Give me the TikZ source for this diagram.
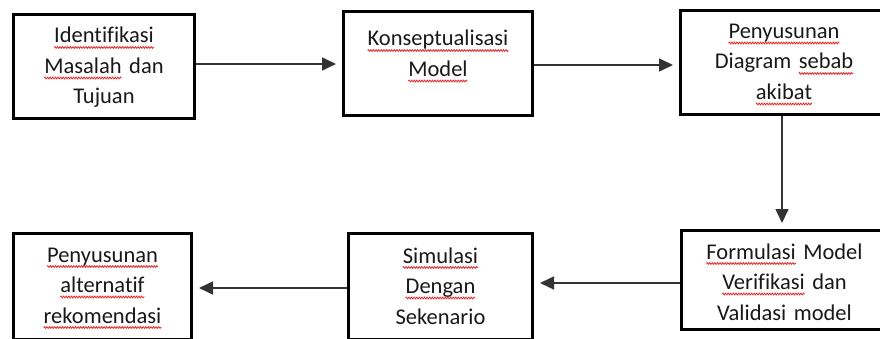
\documentclass[tikz,border=0pt]{standalone}
\usepackage{fontspec}
\setmainfont[Ligatures=NoCommon]{Carlito}
\usetikzlibrary{arrows.meta,decorations.pathmorphing}

\definecolor{typored}{RGB}{230,40,40}
\newdimen\typowd
\newcommand{\typo}[1]{\setbox0=\hbox{#1}\typowd=\wd0%
\tikz[overlay,baseline=0pt]\draw[typored,line width=0.8pt,decorate,decoration={zigzag,amplitude=0.9pt,segment length=2.6pt}] (0pt,-4.5pt) -- (\typowd,-4.5pt);#1}

\tikzset{
  stepbox/.style={draw=black, line width=3pt, inner sep=0pt, align=center,
    font=\fontsize{22.5}{30.5}\selectfont, text=black!90},
  boxsize/.style n args={3}{minimum width=#1pt, text width=#1pt,
    minimum height=#2pt, text height=#3pt, text depth=#2pt-#3pt},
  flow/.style={-{Triangle[length=14pt,width=13pt]}, line width=1.5pt,
    draw=black!80, shorten >=6pt}
}

\begin{document}
\begin{tikzpicture}[x=1pt,y=-1pt]
\useasboundingbox (0,0) rectangle (880,339);
\clip (0,0) rectangle (880,339);

\node[stepbox, boxsize={181}{104}{28.5}] (ident) at (104,66.5)
  {\typo{Identifikasi}\\\typo{Masalah} dan\\Tujuan};
\node[stepbox, boxsize={189}{104}{34.5}] (konsep) at (438,63.5)
  {\typo{Konseptualisasi}\\\typo{Model}};
\node[stepbox, boxsize={207}{104}{27.5}] (diagram) at (784,63)
  {\typo{Penyusunan}\\Diagram \typo{sebab}\\\typo{akibat}};
\node[stepbox, boxsize={206}{99}{28.5}] (formulasi) at (784.5,280)
  {\typo{Formulasi} Model\\\typo{Verifikasi} dan\\Validasi model};
\node[stepbox, boxsize={184}{106}{29.5}] (simulasi) at (440.5,286.5)
  {\typo{Simulasi}\\\typo{Dengan}\\Sekenario};
\node[stepbox, boxsize={178}{106}{28.5}] (rekomendasi) at (102.5,286.5)
  {\typo{Penyusunan}\\\typo{alternatif}\\\typo{rekomendasi}};

\draw[flow] (ident.east |- 0,64) -- (konsep.west |- 0,64);
\draw[flow] (konsep.east |- 0,65) -- (diagram.west |- 0,65);
\draw[flow] (diagram.south -| 782,0) -- (formulasi.north -| 782,0);
\draw[flow] (formulasi.west |- 0,283) -- (simulasi.east |- 0,283);
\draw[flow] (simulasi.west |- 0,288) -- (rekomendasi.east |- 0,288);

\end{tikzpicture}
\end{document}
